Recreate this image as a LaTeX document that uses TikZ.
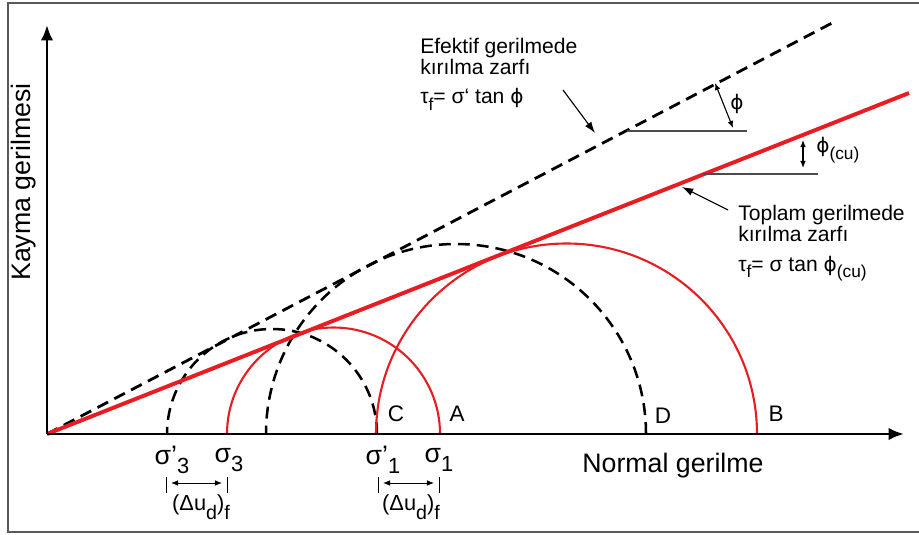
\documentclass[tikz,border=0pt]{standalone}
\usepackage{fontspec}
\setmainfont{Liberation Sans}
\newfontfamily\phifont{DejaVu Sans}
\usetikzlibrary{arrows.meta, positioning, calc}
\definecolor{envred}{RGB}{230,30,36}
\newcommand{\lowr}[1]{\raisebox{-0.32em}{\scalebox{0.82}{#1}}}
\newcommand{\lowrr}[1]{\raisebox{-0.42em}{\scalebox{0.9}{#1}}}
\newcommand{\phisym}{{\phifont\scalebox{0.95}{ϕ}}}

\begin{document}
\begin{tikzpicture}[
        x=0.025cm, y=0.025cm,
        axis/.style={line width=2.1pt, -{Latex[length=11pt, width=9pt]}},
        envline/.style={draw=envred, line width=2.8pt},
        envdash/.style={line width=2pt, dash pattern=on 8.5pt off 5pt},
        mohrred/.style={draw=envred, line width=1.5pt},
        mohrdash/.style={line width=1.8pt, dash pattern=on 8.5pt off 5pt},
        refline/.style={draw=black!70, line width=0.8pt},
        dim/.style={line width=0.6pt, {Latex[length=5pt, width=4pt]}-{Latex[length=5pt, width=4pt]}},
        dimtick/.style={line width=0.6pt},
        ptr/.style={line width=0.8pt, -{Latex[length=8pt, width=5.5pt]}},
        lbl/.style={font=\fontsize{16}{18}\selectfont, inner sep=0pt},
        sig/.style={font=\fontsize{19}{21}\selectfont, inner sep=0pt},
        dlbl/.style={font=\fontsize{15.5}{17}\selectfont, inner sep=0pt},
        note/.style={font=\fontsize{15}{15}\selectfont, align=left, inner sep=0pt},
        axlbl/.style={font=\fontsize{19}{22}\selectfont, inner sep=0pt}
    ]
        \useasboundingbox (-47,-100) rectangle (872,434);
        \draw[black!65, line width=1pt] (872,431) -- (-39,431) -- (-39,-98) -- (872,-98);

        \coordinate (O) at (0,0);
        \coordinate (ytop) at (0,409);
        \coordinate (xend) at (857,0);
        \coordinate (effend) at (787,412);
        \coordinate (totend) at (862,341);
        \coordinate (cC) at (225,0);
        \coordinate (cA) at (286.5,0);
        \coordinate (cD) at (409,0);
        \coordinate (cB) at (519.5,0);

        \draw[mohrdash] ($(cC)+(105,0)$) arc[start angle=0, end angle=180, radius=105];
        \draw[mohrdash] ($(cD)+(190,0)$) arc[start angle=0, end angle=180, radius=190];
        \draw[mohrred] ($(cA)+(106.5,0)$) arc[start angle=0, end angle=180, radius=106.5];
        \draw[mohrred] ($(cB)+(190.5,0)$) arc[start angle=0, end angle=180, radius=190.5];

        \draw[envdash] (O) -- (effend);
        \draw[envline] (O) -- (totend);
        \draw[axis] (O) -- (ytop);
        \draw[axis] (O) -- (xend);

        \node[lbl] (labC) at (349,20) {C};
        \node[lbl] (labA) at (410,20) {A};
        \node[lbl] (labD) at (616,18) {D};
        \node[lbl] (labB) at (729,20) {B};

        \node[sig] (s3e) at (125,-26) {σ'\lowr{3}};
        \node[sig] (s3) at (182,-26) {σ\lowr{3}};
        \node[sig] (s1e) at (336,-26) {σ'\lowr{1}};
        \node[sig] (s1) at (392,-26) {σ\lowr{1}};

        \coordinate (t3a) at (119,-51);
        \coordinate (t3b) at (180,-51);
        \coordinate (t1a) at (331,-51);
        \coordinate (t1b) at (392,-51);
        \foreach \t in {t3a, t3b, t1a, t1b}
            \draw[dimtick] ($(\t)+(0,8)$) -- ($(\t)+(0,-8)$);
        \draw[dim] ($(t3a)+(5,2)$) -- ($(t3b)+(-5,2)$);
        \draw[dim] ($(t1a)+(5,2)$) -- ($(t1b)+(-5,2)$);
        \node[dlbl] (du3) at (154,-73) {(Δu\lowrr{d})\lowrr{f}};
        \node[dlbl] (du1) at (364,-73) {(Δu\lowrr{d})\lowrr{f}};

        \coordinate (phiA) at (580,303);
        \coordinate (phiB) at (656,260);
        \draw[refline] (phiA) -- ++(120,0);
        \draw[refline] (phiB) -- ++(115,0);
        \coordinate (phiAt) at (668,351);
        \coordinate (phiAb) at (686,306);
        \coordinate (phiBt) at (756,294);
        \coordinate (phiBb) at (756,266);
        \draw[dim, line width=0.8pt] (phiAt) -- (phiAb);
        \draw[dim, line width=0.8pt] (phiBt) -- (phiBb);
        \node[note] (phi) at (690,330) {\phisym};
        \node[note, anchor=west] (phicu) at (769,284) {\phisym\lowr{(cu)}};

        \node[note, anchor=north west] (eff) at (373,396) {Efektif gerilmede\\kırılma zarfı\\[5.6pt]τ\lowr{f}= σ‘ tan \phisym};
        \node[note, anchor=north west] (tot) at (691,229) {Toplam gerilmede\\kırılma zarfı\\[6pt]τ\lowr{f}= σ tan \phisym\lowr{(cu)}};
        \coordinate (effsrc) at (516,344);
        \coordinate (effpt) at (548,301);
        \coordinate (totsrc) at (681,224);
        \coordinate (totpt) at (635,247);
        \draw[ptr] (effsrc) -- (effpt);
        \draw[ptr] (totsrc) -- (totpt);

        \node[axlbl, rotate=90] (ylab) at (-23,252) {Kayma gerilmesi};
        \node[axlbl] (xlab) at (626,-32) {Normal gerilme};
    \end{tikzpicture}
\end{document}
